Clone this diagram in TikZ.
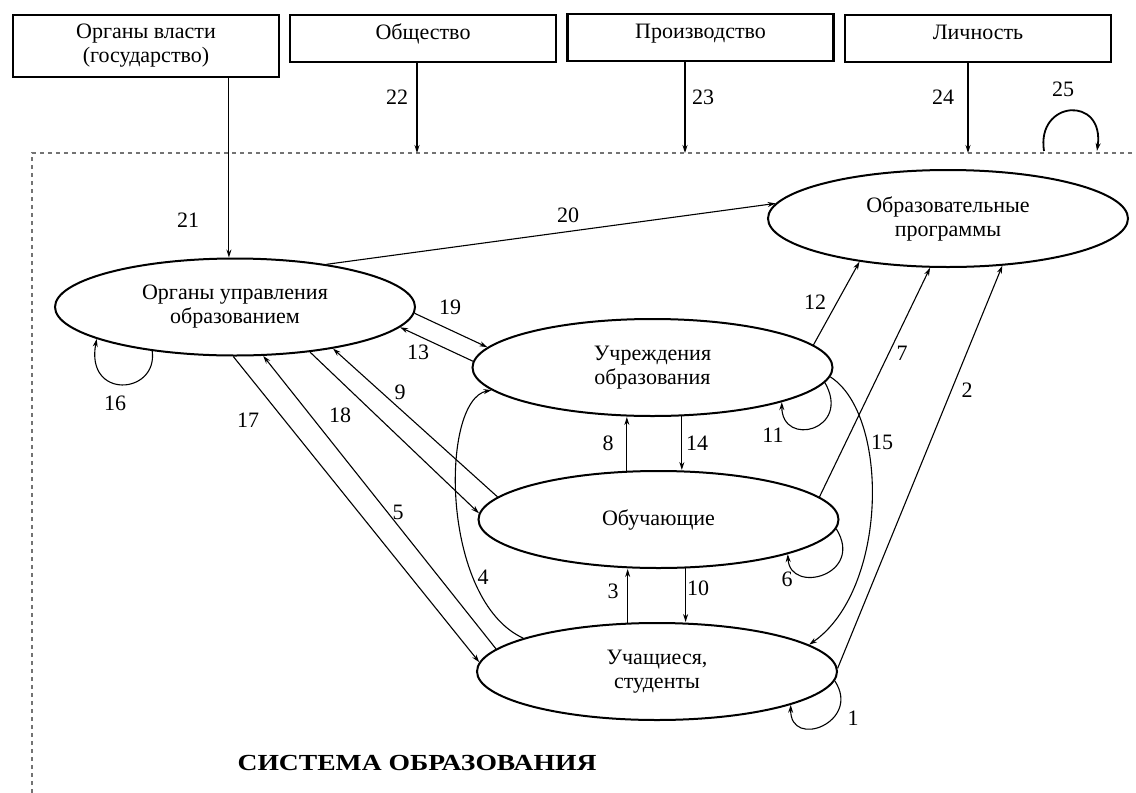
\documentclass[tikz,border=0pt]{standalone}
\usepackage{fontspec}
\setmainfont{Liberation Serif}
\usetikzlibrary{shapes.geometric,arrows.meta}
\newcommand\myfs{\fontsize{22}{24}\selectfont}
\tikzset{
  ell/.style={ellipse, draw, line width=2pt, minimum width=360pt, minimum height=97pt, inner sep=0pt, align=center, font=\myfs},
  topbox/.style={rectangle, draw, line width=2.4pt, minimum width=266pt, inner sep=0pt, align=center, font=\myfs},
  arr/.style={-{Stealth[length=8pt,width=5pt]}, line width=1.1pt},
  lab/.style={inner sep=0pt, font=\myfs},
  frame/.style={draw=black!55, line width=1.8pt, dash pattern=on 4pt off 4pt}
}
\begin{document}
\begin{tikzpicture}[x=1pt,y=-1pt]
\useasboundingbox (0,0) rectangle (1136,793);
% frame
\draw[frame] (32,793) -- (32,153) -- (1136,153);
% top boxes
\node[topbox, minimum height=62pt] (box1) at (146,46) {Органы власти\\(государство)};
\node[topbox, minimum height=47pt, text height=14pt, text depth=12pt] (box2) at (423,38.5) {Общество};
\node[topbox, minimum height=47pt, text height=14pt, text depth=12pt] (box3) at (700.5,37.5) {Производство};
\node[topbox, minimum height=47pt, text height=14pt, text depth=12pt] (box4) at (978,38.5) {Личность};
% ellipses
\node[ell] (org) at (235,307) {Органы управления\\образованием};
\node[ell] (uch) at (652.5,367.5) {Учреждения\\образования};
\node[ell] (obu) at (658.5,519.5) {Обучающие};
\node[ell] (stu) at (657,671.5) {Учащиеся,\\студенты};
\node[ell] (prog) at (948,218.5) {Образовательные\\программы};
% coordinates on the frame
\coordinate (t22) at (417,153);
\coordinate (t23) at (685,153);
\coordinate (t24) at (968,153);
\coordinate (l25a) at (1044,151);
\coordinate (l25b) at (1097,151);
% external arrows
\draw[arr] (org.97 |- box1.south) -- (org.97);
\draw[arr] (box2.south -| t22) -- (t22);
\draw[arr] (box3.south -| t23) -- (t23);
\draw[arr] (box4.south -| t24) -- (t24);
\draw[arr, line width=1.8pt] (l25a) .. controls (1036,100) and (1105,95) .. (l25b);
% internal connectors
\draw[arr] (org.25) -- (prog.175);
\draw[arr] (org.-2) -- (uch.173);
\draw[arr] (uch.178) -- (org.-7);
\draw[arr] (obu.172) -- (org.-23);
\draw[arr] (org.-31) -- (obu.178);
\draw[arr] (org.-92) -- (stu.177);
\draw[arr] (stu.172) -- (org.-60);
\draw[arr] (stu.166) .. controls (440,600) and (440,400) .. (uch.-172);
\draw[arr] (obu.123) -- (obu.123 |- uch.south);
\draw[arr] (uch.-59) -- (uch.-59 |- obu.north);
\draw[arr] (stu.121) -- (stu.121 |- obu.south);
\draw[arr] (obu.-61) -- (obu.-61 |- stu.north);
\draw[arr] (uch.8) -- (prog.206);
\draw[arr] (obu.8) -- (prog.250);
\draw[arr] (stu.1) -- (prog.-41);
\draw[arr] (uch.-3) .. controls (890,415) and (888,590) .. (stu.10);
\draw[arr] (uch.-5) .. controls (852,430) and (782,448) .. (uch.-15);
\draw[arr] (obu.-3) .. controls (865,575) and (790,595) .. (obu.-15);
\draw[arr] (stu.-3) .. controls (862,722) and (790,750) .. (stu.-14);
\draw[arr] (org.208) .. controls (158,395) and (85,400) .. (org.193);
% labels
\node[lab] (n1) at (853,718) {1};
\node[lab] (n2) at (967,390) {2};
\node[lab] (n3) at (613,591) {3};
\node[lab] (n4) at (483,577) {4};
\node[lab] (n5) at (398,512) {5};
\node[lab] (n6) at (787,579) {6};
\node[lab] (n7) at (902,353) {7};
\node[lab] (n8) at (608,443) {8};
\node[lab] (n9) at (400,392) {9};
\node[lab] (n10) at (698,588) {10};
\node[lab] (n11) at (773,435) {11};
\node[lab] (n12) at (815,302) {12};
\node[lab] (n13) at (418,352) {13};
\node[lab] (n14) at (697,443) {14};
\node[lab] (n15) at (882,442) {15};
\node[lab] (n16) at (115,403) {16};
\node[lab] (n17) at (248,420) {17};
\node[lab] (n18) at (340,415) {18};
\node[lab] (n19) at (450,307) {19};
\node[lab] (n20) at (568,215) {20};
\node[lab] (n21) at (188,220) {21};
\node[lab] (n22) at (397,97) {22};
\node[lab] (n23) at (703,97) {23};
\node[lab] (n24) at (943,97) {24};
\node[lab] (n25) at (1063,89) {25};
% title
\node[inner sep=0pt, font=\bfseries\fontsize{23}{26}\selectfont] (sys) at (417,763) {\scalebox{1.2}[1]{СИСТЕМА ОБРАЗОВАНИЯ}};
\end{tikzpicture}
\end{document}
